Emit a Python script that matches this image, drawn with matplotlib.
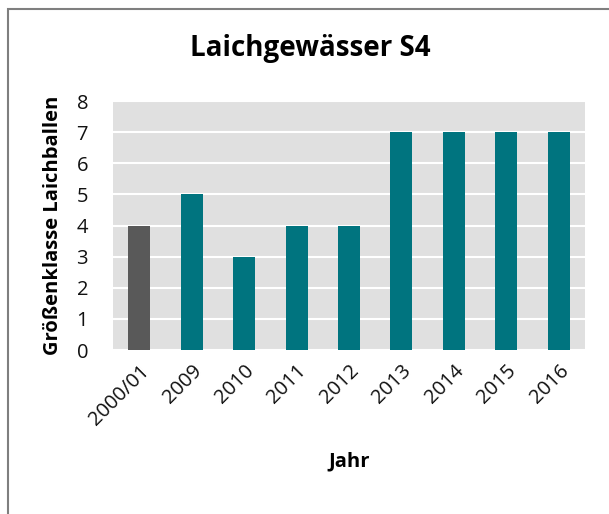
import matplotlib.pyplot as plt
from matplotlib.patches import Rectangle

# Daten
jahre = ['2000/01', '2009', '2010', '2011', '2012', '2013', '2014', '2015', '2016']
groessenklasse = [4, 5, 3, 4, 4, 7, 7, 7, 7]
farben = ['#595959'] + ['#00747f'] * 8

plt.rcParams['font.family'] = ['Open Sans', 'DejaVu Sans']

fig = plt.figure(figsize=(6.09, 5.14), dpi=100)
ax = fig.add_axes([0.1856, 0.319, 0.775, 0.4844])

ax.set_facecolor('#e0e0e0')
ax.bar(range(len(jahre)), groessenklasse, width=0.42, color=farben, zorder=3)
ax.set_xlim(-0.5, len(jahre) - 0.5)
ax.set_ylim(0, 8)
ax.set_yticks(range(0, 9))
ax.yaxis.grid(True, color='white', linewidth=1.5, zorder=1)
ax.set_xticks(range(len(jahre)))
ax.set_xticklabels(jahre, rotation=45, ha='right', rotation_mode='anchor')
ax.tick_params(axis='both', length=0, labelsize=14.5, colors='#111111')
ax.tick_params(axis='x', pad=8)
ax.tick_params(axis='y', pad=18)
for s in ax.spines.values():
    s.set_visible(False)

ax.set_xlabel('Jahr', fontsize=14.5, fontweight='bold', labelpad=16)
ax.set_ylabel('Größenklasse Laichballen', fontsize=14.5, fontweight='bold', labelpad=10)
fig.text(0.51, 0.905, 'Laichgewässer S4', fontsize=20, fontweight='bold',
         ha='center', va='center')

# Rahmen
fig.patches.append(Rectangle((8 / 609, -0.1), 1.2, 1 - 9 / 514 + 0.1,
                             transform=fig.transFigure, fill=False,
                             edgecolor='#7f7f7f', linewidth=1.5))

fig.savefig('out.png', dpi=100)
